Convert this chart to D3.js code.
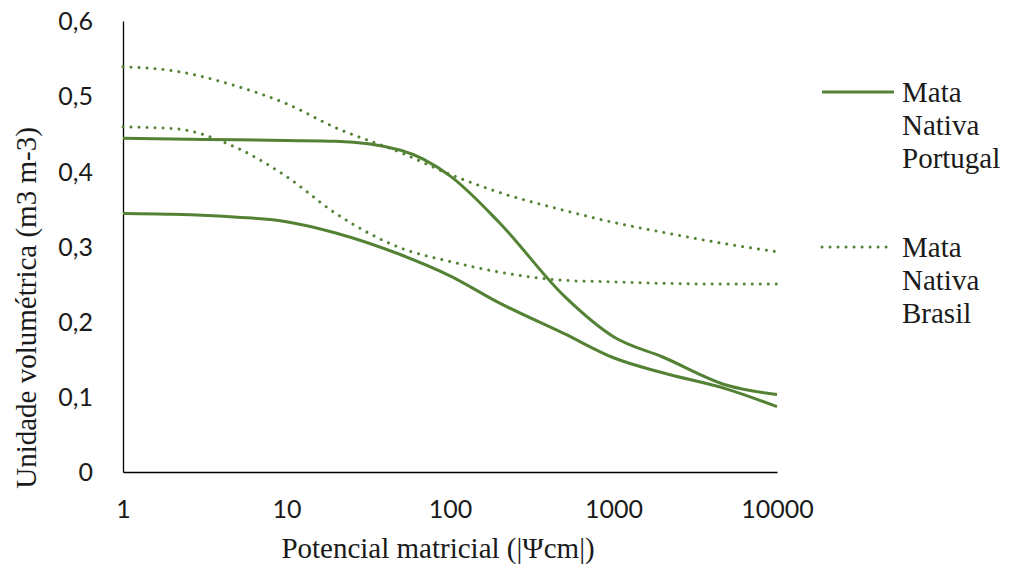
<!DOCTYPE html>
<html>
<head>
<meta charset="utf-8">
<script src="https://cdn.jsdelivr.net/npm/d3@7"></script>
</head>
<body style="margin:0;background:#fff">
<svg id="retention" width="1013" height="574" style="display:block"></svg>
<script>
// Water retention curves: volumetric water content vs matric potential (log scale)
const potential = [1, 2, 5, 10, 20, 50, 100, 200, 500, 1000, 2000, 5000, 10000];

const portugalUpper = [0.444, 0.443, 0.442, 0.441, 0.440, 0.428, 0.394, 0.332, 0.234, 0.180, 0.153, 0.115, 0.103];
const portugalLower = [0.344, 0.343, 0.339, 0.333, 0.318, 0.289, 0.261, 0.225, 0.184, 0.152, 0.132, 0.110, 0.087];
const brasilUpper   = [0.539, 0.534, 0.513, 0.490, 0.458, 0.425, 0.396, 0.372, 0.348, 0.332, 0.319, 0.303, 0.293];
const brasilLower   = [0.459, 0.457, 0.431, 0.393, 0.344, 0.298, 0.280, 0.266, 0.255, 0.253, 0.251, 0.250, 0.250];

const xTickValues = [1, 10, 100, 1000, 10000];
const xTickLabels = ["1", "10", "100", "1000", "10000"];
const yTickValues = [0, 0.1, 0.2, 0.3, 0.4, 0.5, 0.6];
const yTickLabels = ["0", "0,1", "0,2", "0,3", "0,4", "0,5", "0,6"];

const legendNames = [["Mata", "Nativa", "Portugal"], ["Mata", "Nativa", "Brasil"]];

const GREEN = "#548235";
const SERIF = '"Liberation Serif"';
const SANS = '"Lato"';
const svg = d3.select("#retention");

const x = d3.scaleLog().domain([1, 10000]).range([123, 777]);
const y = d3.scaleLinear().domain([0, 0.6]).range([472, 21]);

function serifText(sel, size) {
  return sel.attr("font-family", SERIF)
    .style("font-family", SERIF, "important")
    .style("font-size", size + "px")
    .attr("fill", "#1a1a1a");
}

// Axes
const xAxis = d3.axisBottom(x)
  .tickValues(xTickValues)
  .tickFormat((d, i) => xTickLabels[i])
  .tickSize(0)
  .tickPadding(30);
const gx = svg.append("g").attr("transform", `translate(0,${y(0)})`).call(xAxis);

const yAxis = d3.axisLeft(y)
  .tickValues(yTickValues)
  .tickFormat((d, i) => yTickLabels[i])
  .tickSize(0)
  .tickPadding(30);
const gy = svg.append("g").attr("transform", `translate(${x(1)},0)`).call(yAxis);

[gx, gy].forEach(g => {
  g.select(".domain").attr("stroke", "#000").attr("stroke-width", 1.3);
  g.selectAll("text")
    .style("font-family", SANS)
    .style("font-size", "25px")
    .attr("fill", "#1a1a1a");
});
gx.selectAll("text").attr("dy", "0.71em").attr("y", 28);
gy.selectAll("text").attr("dy", "0.35em");

// Axis titles
serifText(svg.append("text"), 29)
  .attr("x", 438).attr("y", 558)
  .attr("text-anchor", "middle")
  .text("Potencial matricial (|Ψcm|)");

serifText(svg.append("text"), 29)
  .attr("transform", "translate(36,308) rotate(-90)")
  .attr("text-anchor", "middle")
  .text("Unidade volumétrica (m3 m-3)");

// Curves
const line = d3.line()
  .x(d => x(d[0]))
  .y(d => y(d[1]))
  .curve(d3.curveMonotoneX);

const series = [
  { values: portugalUpper, dotted: false },
  { values: portugalLower, dotted: false },
  { values: brasilUpper, dotted: true },
  { values: brasilLower, dotted: true }
];

series.forEach(s => {
  const pts = potential.map((p, i) => [p, s.values[i]]);
  svg.append("path")
    .attr("d", line(pts))
    .attr("fill", "none")
    .attr("stroke", GREEN)
    .attr("stroke-width", 3)
    .attr("stroke-linecap", s.dotted ? "round" : "butt")
    .attr("stroke-dasharray", s.dotted ? "0.01 8" : null);
});

// Legend
const legendRows = [
  { y: 92, dotted: false, names: legendNames[0] },
  { y: 247, dotted: true, names: legendNames[1] }
];
legendRows.forEach(r => {
  svg.append("line")
    .attr("x1", 822).attr("x2", 894)
    .attr("y1", r.y).attr("y2", r.y)
    .attr("stroke", GREEN)
    .attr("stroke-width", 3)
    .attr("stroke-linecap", r.dotted ? "round" : "butt")
    .attr("stroke-dasharray", r.dotted ? "0.01 8" : null);
  r.names.forEach((n, i) => {
    serifText(svg.append("text"), 29)
      .attr("x", 902)
      .attr("y", r.y + 10 + i * 33)
      .text(n);
  });
});
</script>
</body>
</html>
